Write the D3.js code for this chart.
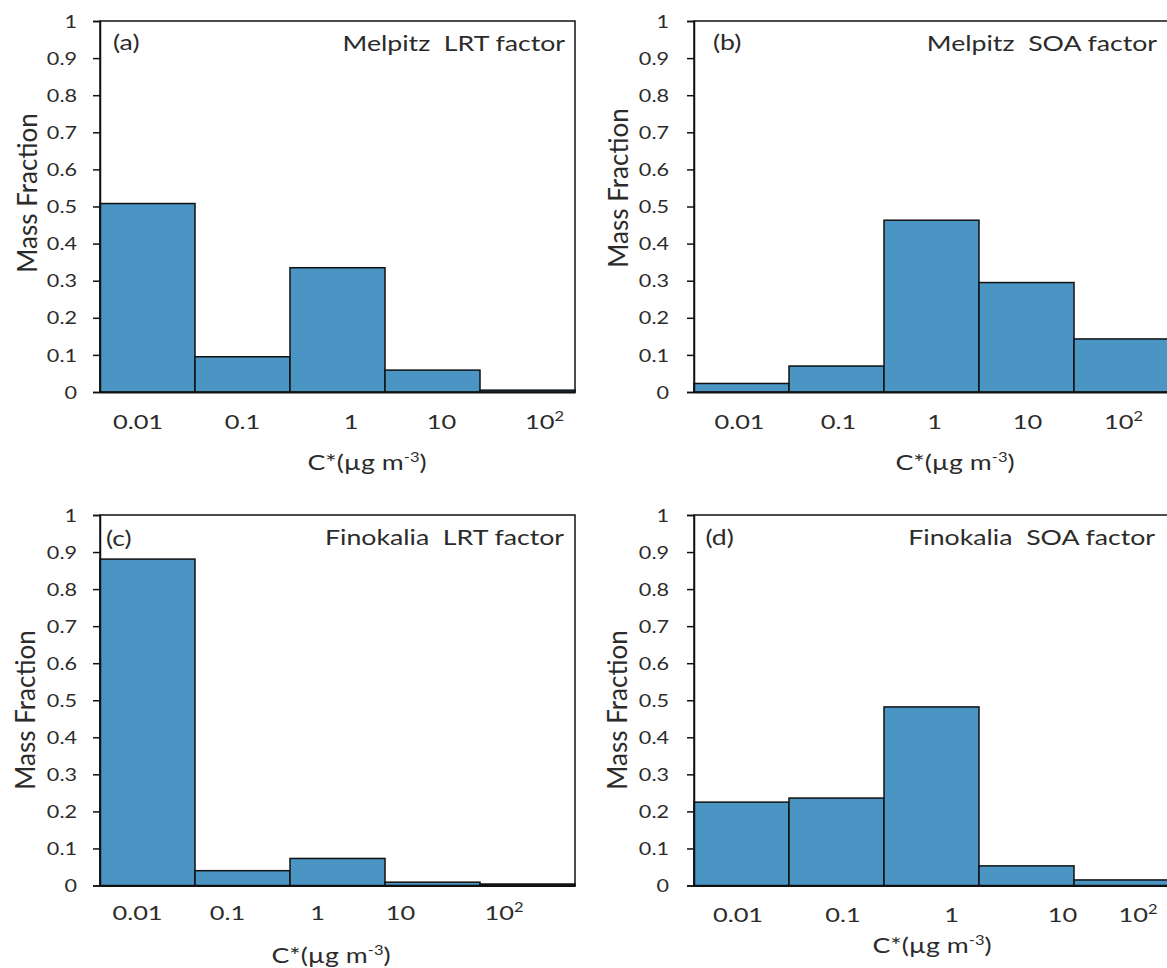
<!DOCTYPE html>
<html>
<head>
<meta charset="utf-8">
<script src="https://cdn.jsdelivr.net/npm/d3@7"></script>
<style>
  html, body { margin: 0; padding: 0; background: #fff; }
  svg { display: block; }
  text { font-family: Lato, "Open Sans", sans-serif; fill: #2b2b2b; white-space: pre; }
</style>
</head>
<body>
<svg id="chart" width="1167" height="968"></svg>
<script>
// ---------------- data ----------------
const categories = ["0.01", "0.1", "1", "10", "10^2"];
const yTickValues = [0, 0.1, 0.2, 0.3, 0.4, 0.5, 0.6, 0.7, 0.8, 0.9, 1];
const melpitzLRT   = [0.508, 0.095, 0.335, 0.059, 0.005];
const melpitzSOA   = [0.023, 0.070, 0.463, 0.295, 0.143];
const finokaliaLRT = [0.881, 0.040, 0.073, 0.009, 0.004];
const finokaliaSOA = [0.225, 0.236, 0.482, 0.053, 0.015];
const panelLetters = ["(a)", "(b)", "(c)", "(d)"];
const panelTitles  = ["Melpitz  LRT factor", "Melpitz  SOA factor", "Finokalia  LRT factor", "Finokalia  SOA factor"];
const yTitle = "Mass Fraction";
const xTitleMain = "C*(\u00b5g m";
const xTitleSup = "-3";
const xTitleEnd = ")";

// ---------------- layout ----------------
const SX = 1.27; // horizontal stretch of the original lettering
const BAR_FILL = "#4b95c5";
const layout = [
  { left: 100, right: 575, top: 21, bottom: 392, tickGap: 16, xLabY: 37, xOff: [-9.5, 0, 13.5, 9, 17],
    xTitleX: 367, xTitleY: 470, yTitleX: 37, yTitleY: 193, letterX: 113, letterY: 50, titleX: 565, titleY: 51 },
  { left: 694, right: 1169, top: 21, bottom: 392, tickGap: 18, xLabY: 37, xOff: [-2, 2, 3, 1, 2],
    xTitleX: 955, xTitleY: 470, yTitleX: 628, yTitleY: 188, letterX: 713, letterY: 50, titleX: 1157, titleY: 51 },
  { left: 100, right: 575, top: 515, bottom: 885.5, tickGap: 16, xLabY: 34, xOff: [-10, -15, -20, -32, -23.5],
    xTitleX: 331, xTitleY: 963, yTitleX: 35, yTitleY: 710, letterX: 106, letterY: 546, titleX: 564, titleY: 545 },
  { left: 694, right: 1169, top: 515, bottom: 885.5, tickGap: 18, xLabY: 36, xOff: [-3.5, 6.5, 20, 36, 16.5],
    xTitleX: 932, xTitleY: 953, yTitleX: 626.5, yTitleY: 710, letterX: 705.5, letterY: 545, titleX: 1155, titleY: 545 }
];
const seriesList = [melpitzLRT, melpitzSOA, finokaliaLRT, finokaliaSOA];

const svg = d3.select("#chart");

function stretched(parent, x, y, anchor, size) {
  return parent.append("text")
    .attr("transform", `translate(${x},${y}) scale(${SX},1)`)
    .attr("text-anchor", anchor)
    .attr("font-size", size);
}

seriesList.forEach((values, i) => {
  const L = layout[i];
  const g = svg.append("g");

  const x = d3.scaleBand().domain(categories).range([L.left, L.right]).padding(0);
  const y = d3.scaleLinear().domain([0, 1]).range([L.bottom, L.top]);

  // plot frame
  g.append("rect")
    .attr("x", L.left).attr("y", L.top)
    .attr("width", L.right - L.left).attr("height", L.bottom - L.top)
    .attr("fill", "none").attr("stroke", "#111").attr("stroke-width", 1.5);

  // bars
  g.selectAll("rect.bar")
    .data(values)
    .join("rect")
    .attr("class", "bar")
    .attr("x", (d, j) => x(categories[j]))
    .attr("width", x.bandwidth())
    .attr("y", d => y(d))
    .attr("height", d => y(0) - y(d))
    .attr("fill", BAR_FILL)
    .attr("stroke", "#111")
    .attr("stroke-width", 1.5);

  // y axis
  const yAxis = g.append("g")
    .attr("transform", `translate(${L.left},0)`)
    .call(d3.axisLeft(y).tickValues(yTickValues).tickSize(7).tickFormat(d3.format("~g")));
  yAxis.select(".domain").attr("stroke", "#111").attr("stroke-width", 1.5);
  yAxis.selectAll(".tick line").attr("stroke", "#111").attr("stroke-width", 1.5);
  yAxis.selectAll(".tick text")
    .attr("x", null)
    .attr("dy", "0.36em")
    .attr("transform", `translate(${-L.tickGap - 7},0) scale(${SX},1)`)
    .attr("font-size", 17)
    .attr("font-family", null)
    .attr("fill", "#2b2b2b");

  // x axis (labels only, line drawn by frame)
  const xAxis = g.append("g")
    .attr("transform", `translate(0,${L.bottom})`)
    .call(d3.axisBottom(x).tickSize(0).tickFormat(() => ""));
  xAxis.select(".domain").attr("stroke", "#111").attr("stroke-width", 2);
  xAxis.selectAll(".tick text").remove();
  xAxis.selectAll(".tick").each(function (d, j) {
    const parts = d.split("^");
    const t = stretched(d3.select(this), L.xOff[j], L.xLabY, "middle", 20);
    t.append("tspan").text(parts[0]);
    if (parts[1]) t.append("tspan").attr("dy", -8).attr("font-size", 13).text(parts[1]);
  });

  // x title
  const xt = stretched(g, L.xTitleX, L.xTitleY, "middle", 21);
  xt.append("tspan").text(xTitleMain);
  xt.append("tspan").attr("dy", -8).attr("font-size", 13).text(xTitleSup);
  xt.append("tspan").attr("dy", 8).text(xTitleEnd);

  // y title
  g.append("text")
    .attr("transform", `translate(${L.yTitleX},${L.yTitleY}) rotate(-90)`)
    .attr("text-anchor", "middle")
    .attr("font-size", 26)
    .text(yTitle);

  // panel letter and title
  stretched(g, L.letterX, L.letterY, "start", 21).text(panelLetters[i]);
  stretched(g, L.titleX, L.titleY, "end", 21).text(panelTitles[i]);
});
</script>
</body>
</html>
